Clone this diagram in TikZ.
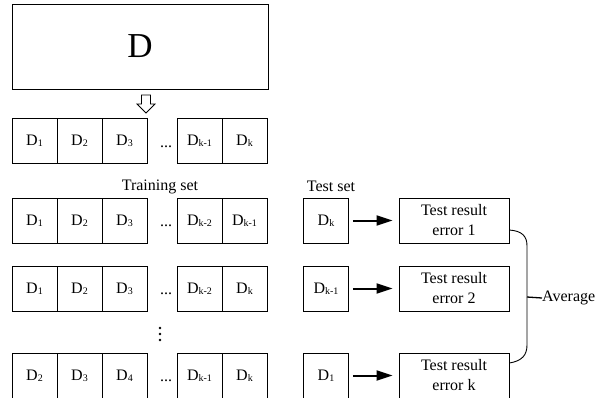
\documentclass[tikz,border=0pt]{standalone}
\usepackage{fontspec}
\setmainfont{Liberation Serif}
\usetikzlibrary{arrows.meta,calc}
\newcommand\Dsub[1]{D\raisebox{-1pt}{\fontsize{10}{10}\selectfont #1}}
\newcommand\myrow[7]{%
  \node[cell] (#1a) at (34.5,#2) {\Dsub{#3}};
  \node[cell] (#1b) at (79.5,#2) {\Dsub{#4}};
  \node[cell] (#1c) at (124.5,#2) {\Dsub{#5}};
  \node[lbl,anchor=base] (#1dots) at (166,#2+6) {...};
  \node[cell] (#1d) at (199.5,#2) {\Dsub{#6}};
  \node[cell] (#1e) at (244.5,#2) {\Dsub{#7}};
}
\begin{document}
\begin{tikzpicture}[x=1pt,y=-1pt,
  cell/.style={draw,line width=0.8pt,minimum width=45pt,minimum height=45pt,inner sep=0pt,font=\fontsize{16}{16}\selectfont},
  res/.style={draw,line width=0.8pt,minimum width=110pt,minimum height=45pt,inner sep=0pt,align=center,font=\fontsize{16}{20}\selectfont},
  lbl/.style={font=\fontsize{16}{16}\selectfont,inner sep=0pt},
  arr/.style={line width=2pt,-{Triangle[length=16pt,width=10pt]},shorten <=4pt,shorten >=6pt},
  link/.style={line width=0.9pt},
]
\useasboundingbox (0,0) rectangle (612,398);
% whole data set
\node[draw,line width=0.8pt,minimum width=256pt,minimum height=85pt,inner sep=0pt,font=\fontsize{35}{35}\selectfont] (D) at (140,46.5) {D};
% hollow down arrow
\draw[line width=0.8pt,fill=white] (141.5,95) -- (150.5,95) -- (150.5,104) -- (155,104) -- (146,113) -- (137,104) -- (141.5,104) -- cycle;
% partition row
\myrow{p}{141}{1}{2}{3}{k-1}{k}
% labels
\node[lbl] (train) at (160,187) {Training set};
\node[lbl] (testlbl) at (331,186) {Test set};
% folds
\myrow{f1}{220.5}{1}{2}{3}{k-2}{k-1}
\myrow{f2}{288.5}{1}{2}{3}{k-2}{k}
\myrow{f3}{375.5}{2}{3}{4}{k-1}{k}
% vertical dots
\foreach \yy in {328,334,340} \fill (160,\yy) circle (1.3pt);
% test sets
\node[cell] (t1) at (326,220.5) {\Dsub{k}};
\node[cell] (t2) at (326,288.5) {\Dsub{k-1}};
\node[cell] (t3) at (326,375.5) {\Dsub{1}};
% results
\node[res] (e1) at (454,220.5) {Test result\\error 1};
\node[res] (e2) at (454,288.5) {Test result\\error 2};
\node[res] (e3) at (454,375.5) {Test result\\error k};
\draw[arr] (t1) -- (e1);
\draw[arr] (t2) -- (e2);
\draw[arr] (t3) -- (e3);
% brace
\coordinate (b1) at ([yshift=-9.5pt]e1.east);
\coordinate (b3) at ([yshift=12.5pt]e3.east);
\coordinate (mid) at (527,297);
\draw[link] (b1) .. controls (522,231) and (527,236) .. (527,246) -- (527,345) .. controls (527,355) and (522,361) .. (b3);
\node[lbl,anchor=west] (avg) at (542,298) {Average};
\draw[line width=1.3pt] (mid) -- (avg.west);
\end{tikzpicture}
\end{document}
